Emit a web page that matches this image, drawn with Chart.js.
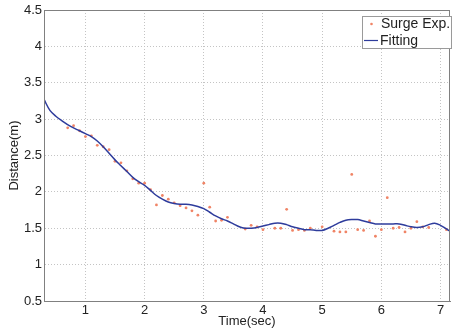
<!DOCTYPE html>
<html>
<head>
<meta charset="utf-8">
<script src="https://cdn.jsdelivr.net/npm/chart.js@4.4.1/dist/chart.umd.min.js"></script>
<style>
  body { margin: 0; background: #fff; }
  #box { width: 454px; height: 330px; }
</style>
</head>
<body>
<div id="box"><canvas id="graphique" width="454" height="330"></canvas></div>
<script>
// Mesures (Surge Exp.)
const surgeTime = [0.7, 0.8, 0.9, 1.0, 1.1, 1.2, 1.3, 1.4, 1.5, 1.6, 1.7, 1.8, 1.9, 2.0, 2.1, 2.2, 2.3, 2.4, 2.5, 2.6,
    2.7, 2.8, 2.9, 3.0, 3.1, 3.2, 3.3, 3.4, 3.7, 3.8, 3.9, 4.0, 4.2, 4.3, 4.4, 4.5, 4.6, 4.7, 4.8, 5.0,
    5.2, 5.3, 5.4, 5.5, 5.6, 5.7, 5.8, 5.9, 6.0, 6.1, 6.2, 6.3, 6.4, 6.5, 6.6, 6.7, 6.8, 7.1];
const surgeDist = [2.88, 2.91, 2.84, 2.76, 2.77, 2.64, 2.62, 2.58, 2.42, 2.40, 2.29, 2.18, 2.12, 2.12, 2.03, 1.82, 1.95, 1.90, 1.85, 1.81,
    1.78, 1.74, 1.68, 2.12, 1.79, 1.60, 1.61, 1.65, 1.49, 1.54, 1.52, 1.48, 1.50, 1.50, 1.76, 1.47, 1.48, 1.47, 1.50, 1.52,
    1.46, 1.45, 1.45, 2.24, 1.48, 1.47, 1.60, 1.39, 1.48, 1.92, 1.50, 1.51, 1.45, 1.50, 1.59, 1.52, 1.51, 1.48];

// Courbe lissée (Fitting)
const fitTime = [0.3, 0.4, 0.5, 0.6, 0.75, 0.9, 1.0, 1.1, 1.2, 1.3, 1.4, 1.5, 1.6, 1.7, 1.8, 1.9, 2.0, 2.1, 2.2, 2.3,
    2.4, 2.5, 2.6, 2.7, 2.8, 2.9, 3.0, 3.1, 3.2, 3.3, 3.4, 3.5, 3.6, 3.7, 3.8, 3.9, 4.0, 4.1, 4.2, 4.3,
    4.4, 4.5, 4.6, 4.7, 4.8, 4.9, 5.0, 5.1, 5.2, 5.3, 5.4, 5.5, 5.6, 5.7, 5.8, 5.9, 6.0, 6.1, 6.2, 6.3,
    6.4, 6.5, 6.6, 6.7, 6.8, 6.9, 7.0, 7.1, 7.16];
const fitDist = [3.27, 3.12, 3.04, 2.98, 2.90, 2.84, 2.80, 2.76, 2.70, 2.62, 2.53, 2.44, 2.36, 2.28, 2.20, 2.14, 2.09, 2.02, 1.95, 1.90,
    1.86, 1.84, 1.83, 1.83, 1.82, 1.80, 1.77, 1.72, 1.67, 1.63, 1.60, 1.56, 1.52, 1.50, 1.50, 1.51, 1.53, 1.55, 1.57, 1.57,
    1.55, 1.52, 1.50, 1.48, 1.48, 1.47, 1.47, 1.50, 1.54, 1.58, 1.61, 1.62, 1.62, 1.60, 1.58, 1.56, 1.56, 1.56, 1.56, 1.56,
    1.54, 1.52, 1.51, 1.52, 1.55, 1.57, 1.54, 1.49, 1.46];

const xTicks = [1, 2, 3, 4, 5, 6, 7];
const yTicks = [0.5, 1, 1.5, 2, 2.5, 3, 3.5, 4, 4.5];

const couleurPoints = "#f08466";
const couleurLigne = "#2e3c9c";
const police = "'Liberation Sans', Arial, sans-serif";

// Cadre complet + légende dans la zone du graphique
const cadreEtLegende = {
    id: "cadreEtLegende",
    afterDraw(chart) {
        const ctx = chart.ctx;
        const a = chart.chartArea;
        ctx.save();
        ctx.strokeStyle = "#808080";
        ctx.lineWidth = 1;
        ctx.setLineDash([]);
        ctx.beginPath();
        ctx.moveTo(a.left, a.top + 0.5);
        ctx.lineTo(a.right, a.top + 0.5);
        ctx.moveTo(a.right - 0.5, a.top);
        ctx.lineTo(a.right - 0.5, a.bottom);
        ctx.moveTo(a.left, a.bottom + 0.5);
        ctx.lineTo(a.right, a.bottom + 0.5);
        ctx.moveTo(a.left + 0.5, a.top);
        ctx.lineTo(a.left + 0.5, a.bottom);
        ctx.stroke();

        // légende
        const lx = 362, ly = 16, lw = 90, lh = 33;
        ctx.fillStyle = "#fff";
        ctx.fillRect(lx, ly, lw, lh);
        ctx.strokeStyle = "#9a9a9a";
        ctx.strokeRect(lx + 0.5, ly + 0.5, lw - 1, lh - 1);

        ctx.fillStyle = couleurPoints;
        ctx.beginPath();
        ctx.arc(371.5, 24, 1.3, 0, Math.PI * 2);
        ctx.fill();

        ctx.strokeStyle = couleurLigne;
        ctx.lineWidth = 1.2;
        ctx.beginPath();
        ctx.moveTo(364, 40.5);
        ctx.lineTo(378, 40.5);
        ctx.stroke();

        ctx.fillStyle = "#222";
        ctx.font = "14px " + police;
        ctx.textBaseline = "middle";
        ctx.fillText("Surge Exp.", 381, 24);
        ctx.fillText("Fitting", 380, 41);
        ctx.restore();
    }
};

const grille = {
    color: "#c4c4c4",
    lineWidth: 1,
    drawTicks: false
};
const bord = { display: true, color: "#808080", width: 1, dash: [1, 2] };

new Chart(document.querySelector("#graphique"), {
    type: "scatter",
    data: {
        datasets: [
            {
                label: "Fitting",
                data: fitTime.map((t, i) => ({ x: t, y: fitDist[i] })),
                showLine: true,
                borderColor: couleurLigne,
                borderWidth: 1.5,
                pointRadius: 0,
                tension: 0.35,
                order: 0
            },
            {
                label: "Surge Exp.",
                data: surgeTime.map((t, i) => ({ x: t, y: surgeDist[i] })),
                backgroundColor: couleurPoints,
                borderWidth: 0,
                pointRadius: 1.4,
                order: 1
            }
        ]
    },
    options: {
        responsive: false,
        animation: false,
        layout: { padding: { top: 10, right: 1 } },
        plugins: {
            legend: { display: false },
            tooltip: { enabled: false }
        },
        scales: {
            x: {
                type: "linear",
                min: 0.3,
                max: 7.16,
                afterBuildTicks: scale => { scale.ticks = xTicks.map(v => ({ value: v })); },
                afterFit: scale => { scale.height = 29; },
                grid: grille,
                border: bord,
                ticks: {
                    color: "#222",
                    padding: 2,
                    font: { size: 13, family: police },
                    callback: v => String(v)
                },
                title: {
                    display: true,
                    text: "Time(sec)",
                    color: "#222",
                    font: { size: 13, family: police },
                    padding: { top: 0, bottom: 1 }
                }
            },
            y: {
                min: 0.5,
                max: 4.5,
                afterBuildTicks: scale => { scale.ticks = yTicks.map(v => ({ value: v })); },
                afterFit: scale => { scale.width = 44; },
                grid: grille,
                border: bord,
                ticks: {
                    color: "#222",
                    padding: 2,
                    font: { size: 13, family: police },
                    callback: v => String(v)
                },
                title: {
                    display: true,
                    text: "Distance(m)",
                    color: "#222",
                    font: { size: 13, family: police },
                    padding: { top: 7, bottom: 0 }
                }
            }
        }
    },
    plugins: [cadreEtLegende]
});
</script>
</body>
</html>
